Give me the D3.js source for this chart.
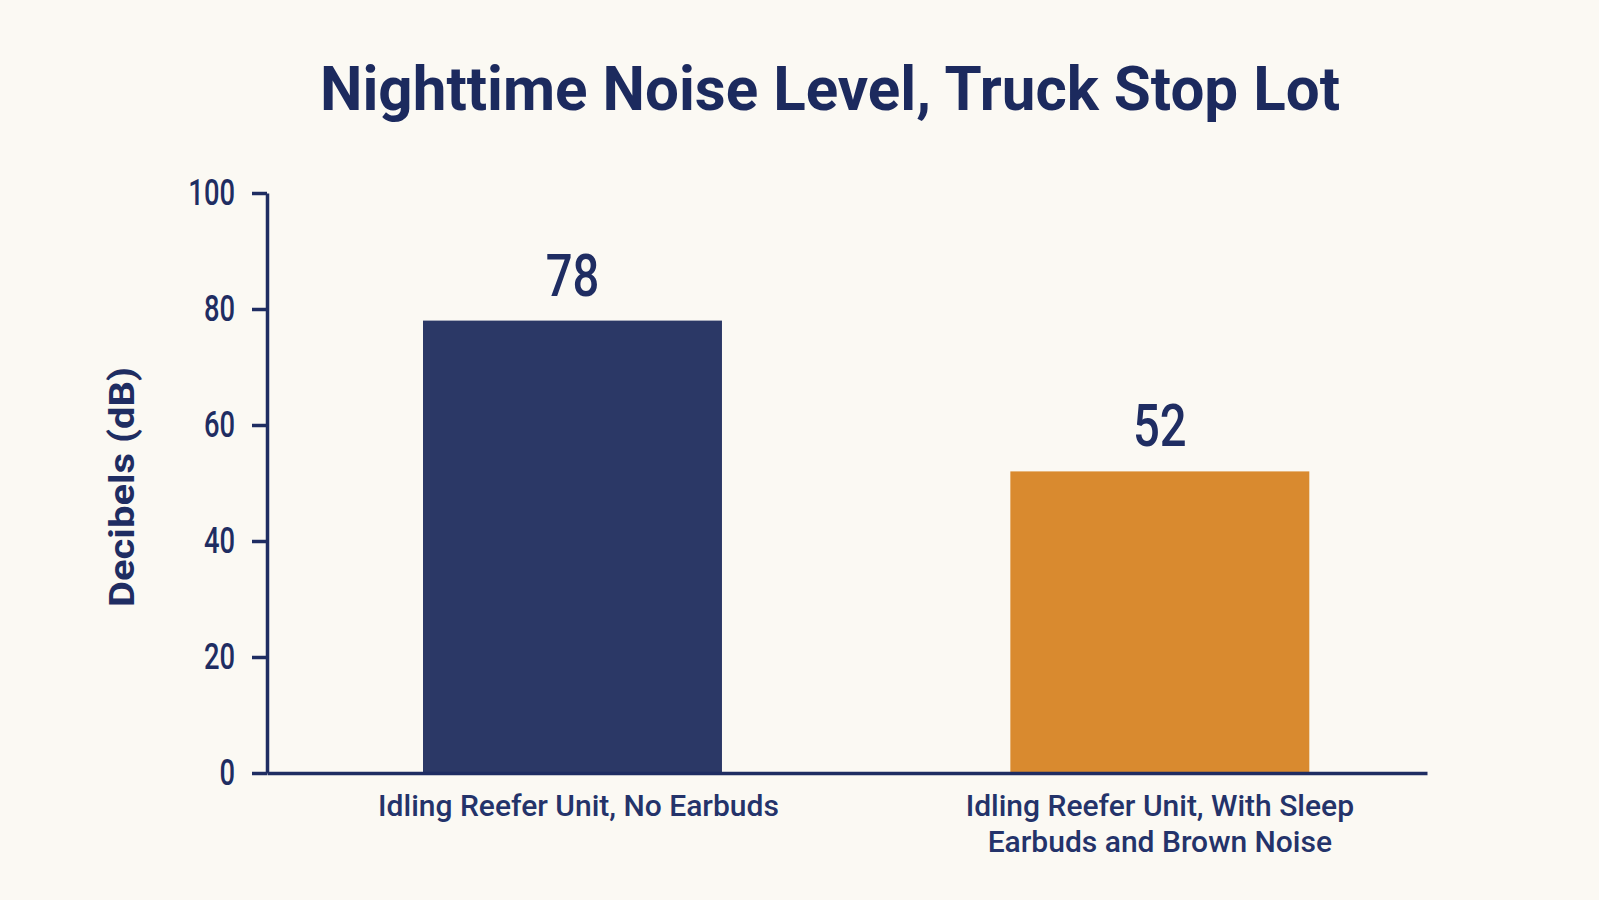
<!DOCTYPE html>
<html>
<head>
<meta charset="utf-8">
<script src="https://cdn.jsdelivr.net/npm/d3@7"></script>
<style>
  html, body { margin: 0; padding: 0; background: #fbf9f3; }
  svg { display: block; font-family: Roboto, "Open Sans", sans-serif; }
</style>
</head>
<body>
<script>
// chart values
var categories = ["Idling Reefer Unit, No Earbuds", "Idling Reefer Unit, With Sleep Earbuds and Brown Noise"];
var labelLines = [["Idling Reefer Unit, No Earbuds"], ["Idling Reefer Unit, With Sleep", "Earbuds and Brown Noise"]];
var decibels = [78, 52];
var barColors = ["#2b3866", "#d98a2f"];
var yTicks = [0, 20, 40, 60, 80, 100];

var W = 1599, H = 900;
var navy = "#1f2d62";
var margin = {top: 193, right: 172, bottom: 127, left: 267};

var svg = d3.select("body").append("svg")
    .attr("width", W)
    .attr("height", H);

svg.append("rect").attr("width", W).attr("height", H).attr("fill", "#fbf9f3");

var x = d3.scaleBand()
    .domain(categories)
    .range([margin.left, W - margin.right])
    .paddingInner(0.491)
    .paddingOuter(0.233)
    .align(0.57);

var y = d3.scaleLinear()
    .domain([0, 100])
    .range([H - margin.bottom, margin.top]);

// squeeze a text element horizontally (the source font is narrower than Roboto)
function squeeze(sel, k) {
  sel.each(function() {
    var w = this.getComputedTextLength();
    d3.select(this).attr("textLength", w * k).attr("lengthAdjust", "spacingAndGlyphs");
  });
}

// title
svg.append("text")
    .attr("x", 830)
    .attr("y", 110)
    .attr("text-anchor", "middle")
    .attr("fill", "#1c2a5e")
    .attr("font-size", 62)
    .attr("font-weight", 700)
    .attr("textLength", 1020)
    .attr("lengthAdjust", "spacingAndGlyphs")
    .text("Nighttime Noise Level, Truck Stop Lot");

// bars
svg.selectAll("rect.bar")
    .data(decibels)
    .enter().append("rect")
    .attr("class", "bar")
    .attr("x", function(d, i) { return x(categories[i]); })
    .attr("width", x.bandwidth())
    .attr("y", function(d) { return y(d); })
    .attr("height", function(d) { return y(0) - y(d); })
    .attr("fill", function(d, i) { return barColors[i]; });

// value labels
var vals = svg.selectAll("text.val")
    .data(decibels)
    .enter().append("text")
    .attr("class", "val")
    .attr("x", function(d, i) { return x(categories[i]) + x.bandwidth() / 2; })
    .attr("y", function(d) { return y(d) - 25; })
    .attr("text-anchor", "middle")
    .attr("fill", navy)
    .attr("font-size", 59)
    .attr("font-weight", 500)
    .text(function(d) { return d; });
squeeze(vals, 0.8);

// y axis
var yAxis = svg.append("g")
    .attr("transform", "translate(" + margin.left + ",0)")
    .call(d3.axisLeft(y).tickValues(yTicks).tickSize(15).tickSizeOuter(0).tickPadding(17));
yAxis.select(".domain").attr("stroke", navy).attr("stroke-width", 3.5);
yAxis.selectAll(".tick line").attr("stroke", navy).attr("stroke-width", 3.5);
var yLabels = yAxis.selectAll(".tick text")
    .attr("fill", navy)
    .attr("font-size", 36)
    .attr("font-weight", 500)
    .attr("font-family", "Roboto, sans-serif");
squeeze(yLabels, 0.76);

// x axis
var xAxis = svg.append("g")
    .attr("transform", "translate(0," + y(0) + ")")
    .call(d3.axisBottom(x).tickSize(0).tickSizeOuter(0).tickFormat(""));
xAxis.select(".domain").attr("stroke", navy).attr("stroke-width", 3.5);

svg.selectAll("text.cat")
    .data(labelLines)
    .enter().append("text")
    .attr("class", "cat")
    .attr("text-anchor", "middle")
    .attr("fill", "#24336a")
    .attr("font-size", 30)
    .attr("font-weight", 500)
    .attr("transform", function(d, i) {
      return "translate(" + (x(categories[i]) + x.bandwidth() / 2 + (i === 0 ? 6 : 0)) + "," + (y(0) + 43) + ")";
    })
    .selectAll("tspan")
    .data(function(d) { return d; })
    .enter().append("tspan")
    .attr("x", 0)
    .attr("y", function(d, j) { return j * 36; })
    .text(function(d) { return d; });

// y axis title
svg.append("text")
    .attr("transform", "translate(134,487) rotate(-90)")
    .attr("text-anchor", "middle")
    .attr("fill", navy)
    .attr("font-size", 35)
    .attr("font-weight", 700)
    .attr("textLength", 240)
    .attr("lengthAdjust", "spacingAndGlyphs")
    .text("Decibels (dB)");
</script>
</body>
</html>
